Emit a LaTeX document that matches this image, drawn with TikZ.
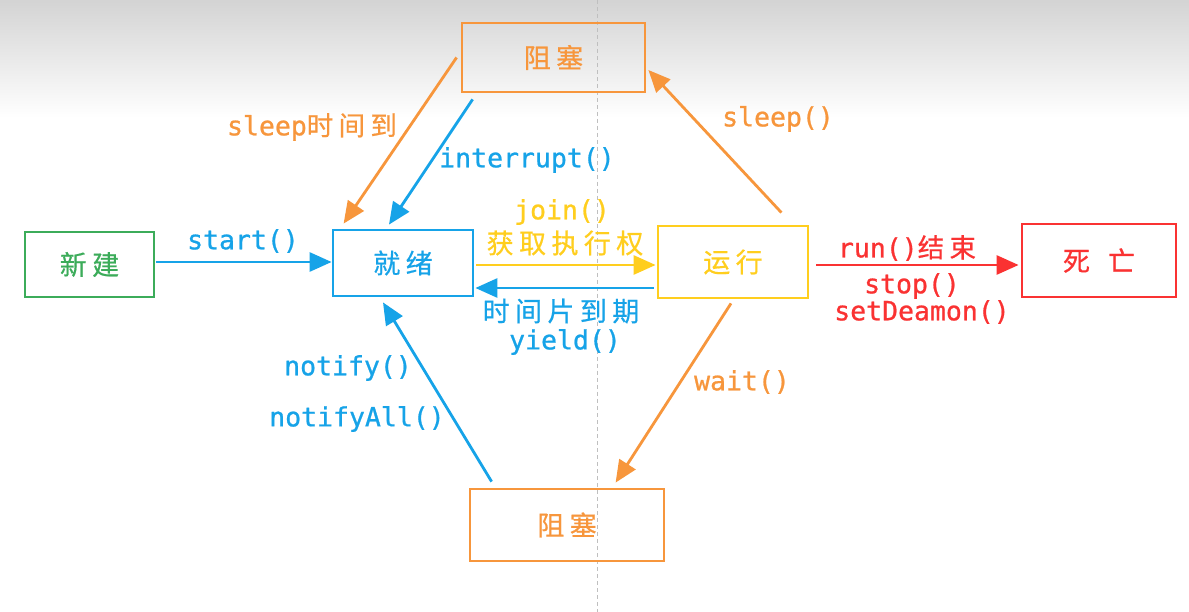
\documentclass[tikz,border=0pt]{standalone}
\usepackage{fontspec}
\usetikzlibrary{arrows.meta,calc}
\newfontfamily\cn[LetterSpace=20,FakeBold=0.6]{Noto Sans CJK SC}
\newfontfamily\mono[FakeBold=0.8]{DejaVu Sans Mono}
\definecolor{cblue}{RGB}{22,163,232}
\definecolor{cyellow}{RGB}{255,206,30}
\definecolor{corange}{RGB}{247,150,60}
\definecolor{cred}{RGB}{250,50,50}
\definecolor{cgreen}{RGB}{60,172,90}
\tikzset{
  state/.style={draw=#1, text=#1, line width=2.8pt, inner sep=0pt,
    font=\fontsize{27}{30}\cn},
  flow/.style={draw=#1, line width=2.8pt,
    -{Triangle[length=22pt,width=19pt]}},
  lbl/.style={text=#1, inner sep=0pt, font=\fontsize{26.5}{30}\mono},
  cnlbl/.style={text=#1, inner sep=0pt, font=\fontsize{27}{30}\cn},
}
\begin{document}
\begin{tikzpicture}[x=1pt,y=-1pt]
  % canvas with soft grey band at the top
  \fill[white] (0,0) rectangle (1189,612);
  \shade[top color=black!17, bottom color=white] (0,0) rectangle (1189,118);
  \useasboundingbox (0,0) rectangle (1189,612);
  % guide line
  \draw[black!25, line width=0.8pt, dash pattern=on 4pt off 3pt] (597,0) -- (597,612);

  % states
  \node[state=cgreen,  minimum width=129pt, minimum height=65pt] (xj) at (89.5,264.5) {新建};
  \node[state=cblue,   minimum width=140pt, minimum height=66pt] (jx) at (403,263) {就绪};
  \node[state=cyellow, minimum width=150pt, minimum height=72pt] (yx) at (733,262) {运行};
  \node[state=cred,    minimum width=154pt, minimum height=73pt] (sw) at (1099,260.5) {死\hspace{18pt}亡};
  \node[state=corange, minimum width=183pt, minimum height=69pt] (zs) at (553.5,57.5) {阻塞};
  \node[state=corange, minimum width=194pt, minimum height=72pt] (zb) at (567,525) {阻塞};

  % transitions
  \draw[flow=cblue]   ($(xj.east)+(1,-2.5)$) -- ($(jx.west)+(0,-1)$);
  \draw[flow=cyellow] ($(jx.east)+(2,2)$) -- ($(yx.west)+(-1,3)$);
  \draw[flow=cblue]   ($(yx.west)+(-3,26)$) -- ($(jx.east)+(1,25)$);
  \draw[flow=cred]    ($(yx.east)+(7,3)$) -- ($(sw.west)+(-2,4.5)$);
  \draw[flow=corange] ($(yx.north east)+(-28,-12)$) -- ($(zs.east)+(2,12.5)$);
  \draw[flow=corange] ($(zs.west)+(-4,0)$) -- ($(jx.north west)+(12,-5)$);
  \draw[flow=cblue]   ($(zs.south west)+(12,6)$) -- ($(jx.north)+(-14,-4)$);
  \draw[flow=corange] ($(yx.south)+(-2,4)$) -- ($(zb.north west)+(147,-5)$);
  \draw[flow=cblue]   ($(zb.north west)+(23,-6)$) -- ($(jx.south)+(-20,5)$);

  % labels
  \node[lbl=cblue] (lstart) at (243,241) {start()};
  \node[lbl=cyellow] (ljoin) at (562,212) {join()};
  \node[cnlbl=cyellow] (lget) at (565,243) {获取执行权};
  \node[cnlbl=cblue] (lslice) at (561,311) {时间片到期};
  \node[lbl=cblue] (lyield) at (565,342) {yield()};
  \node[text=cred, inner sep=0pt] (lrun) at (907,248)
    {\fontsize{26.5}{30}\mono run()\cn 结束};
  \node[lbl=cred] (lstop) at (912,286) {stop()};
  \node[lbl=cred] (ldaemon) at (922,312) {setDeamon()};
  \node[lbl=corange] (lsleep) at (778,119) {sleep()};
  \node[text=corange, inner sep=0pt] (lwake) at (312,127)
    {\fontsize{26.5}{30}\mono sleep\cn 时间到};
  \node[lbl=cblue] (lint) at (527,160) {interrupt()};
  \node[lbl=corange] (lwait) at (742,382) {wait()};
  \node[lbl=cblue] (lnot) at (348,368) {notify()};
  \node[lbl=cblue] (lnotall) at (357,419) {notifyAll()};
\end{tikzpicture}
\end{document}
